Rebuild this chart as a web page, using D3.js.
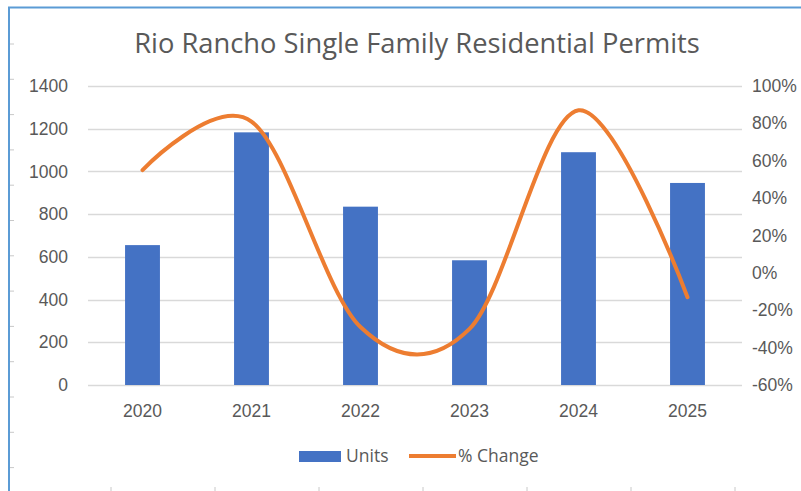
<!DOCTYPE html>
<html>
<head>
<meta charset="utf-8">
<script src="https://cdn.jsdelivr.net/npm/d3@7"></script>
<style>
  body { margin: 0; background: #fff; }
  svg { display: block; font-family: "Open Sans", sans-serif; }
</style>
</head>
<body>
<div id="chart"></div>
<script>
const years = ['2020', '2021', '2022', '2023', '2024', '2025'];
const units = [655, 1183, 835, 584, 1090, 946];
const pctChange = [55, 81, -29, -30, 87, -13];
const leftTicks = [0, 200, 400, 600, 800, 1000, 1200, 1400];
const rightTicks = [-60, -40, -20, 0, 20, 40, 60, 80, 100];

const width = 801, height = 491;
const margin = {top: 86, right: 59, bottom: 106, left: 88};
const fontSize = '17.5px';

const svg = d3.select('#chart').append('svg')
    .attr('width', width)
    .attr('height', height);

// outer frame (only left and top visible in the crop)
svg.append('path')
    .attr('d', `M9,491 V7.5 H801`)
    .attr('fill', 'none')
    .attr('stroke', '#5b9bd5')
    .attr('stroke-width', 2);

// little ruler marks outside the frame
svg.append('g')
    .selectAll('line')
    .data(d3.range(13))
    .join('line')
    .attr('x1', 10).attr('x2', 14)
    .attr('y1', d => 44 + d * 35.3)
    .attr('y2', d => 44 + d * 35.3)
    .attr('stroke', '#c8c8c8');
svg.append('g')
    .selectAll('line')
    .data(d3.range(7))
    .join('line')
    .attr('x1', d => 111 + d * 104)
    .attr('x2', d => 111 + d * 104)
    .attr('y1', 487).attr('y2', 491)
    .attr('stroke', '#c8c8c8');

const x = d3.scaleBand()
    .domain(years)
    .range([margin.left, width - margin.right])
    .paddingInner(0.68)
    .paddingOuter(0.34);
const y = d3.scaleLinear()
    .domain([0, 1400])
    .range([height - margin.bottom, margin.top]);
const y2 = d3.scaleLinear()
    .domain([-60, 100])
    .range([height - margin.bottom, margin.top]);

// gridlines
svg.append('g')
    .selectAll('line')
    .data(leftTicks)
    .join('line')
    .attr('x1', margin.left)
    .attr('x2', width - margin.right)
    .attr('y1', d => Math.round(y(d)) + 0.5)
    .attr('y2', d => Math.round(y(d)) + 0.5)
    .attr('stroke', '#d9d9d9')
    .attr('stroke-width', 1.3);

// left axis
const yAxis = svg.append('g')
    .attr('transform', `translate(${margin.left - 20},0)`)
    .call(d3.axisLeft(y).tickValues(leftTicks).tickSize(0).tickPadding(0)
        .tickFormat(d3.format('d')));
// right axis
const yAxis2 = svg.append('g')
    .attr('transform', `translate(${width - margin.right + 10},0)`)
    .call(d3.axisRight(y2).tickValues(rightTicks).tickSize(0).tickPadding(0)
        .tickFormat(d => d + '%'));
// bottom axis
const xAxis = svg.append('g')
    .attr('transform', `translate(0,${height - margin.bottom})`)
    .call(d3.axisBottom(x).tickSize(0).tickPadding(20));

[yAxis, yAxis2, xAxis].forEach(a => {
    a.select('.domain').remove();
    a.selectAll('text')
        .attr('fill', '#595959')
        .style('font-size', fontSize);
});

// bars
svg.append('g')
    .selectAll('rect')
    .data(units)
    .join('rect')
    .attr('x', (d, i) => x(years[i]))
    .attr('y', d => y(d))
    .attr('width', x.bandwidth())
    .attr('height', d => y(0) - y(d))
    .attr('fill', '#4472c4');

// smoothed % change line
const line = d3.line()
    .x((d, i) => x(years[i]) + x.bandwidth() / 2)
    .y(d => y2(d))
    .curve(d3.curveCardinal.tension(0));
svg.append('path')
    .datum(pctChange)
    .attr('d', line)
    .attr('fill', 'none')
    .attr('stroke', '#ed7d31')
    .attr('stroke-width', 4)
    .attr('stroke-linecap', 'round');

// title
svg.append('text')
    .attr('x', 417)
    .attr('y', 53)
    .attr('text-anchor', 'middle')
    .attr('fill', '#595959')
    .style('font-size', '27.3px')
    .text('Rio Rancho Single Family Residential Permits');

// legend
const legend = svg.append('g');
legend.append('rect')
    .attr('x', 299).attr('y', 451)
    .attr('width', 42).attr('height', 11)
    .attr('fill', '#4472c4');
legend.append('text')
    .attr('x', 346).attr('y', 462)
    .attr('fill', '#595959')
    .style('font-size', fontSize)
    .text('Units');
legend.append('line')
    .attr('x1', 409).attr('x2', 456)
    .attr('y1', 456).attr('y2', 456)
    .attr('stroke', '#ed7d31')
    .attr('stroke-width', 4);
legend.append('text')
    .attr('x', 458).attr('y', 462)
    .attr('fill', '#595959')
    .style('font-size', fontSize)
    .text('% Change');
</script>
</body>
</html>
